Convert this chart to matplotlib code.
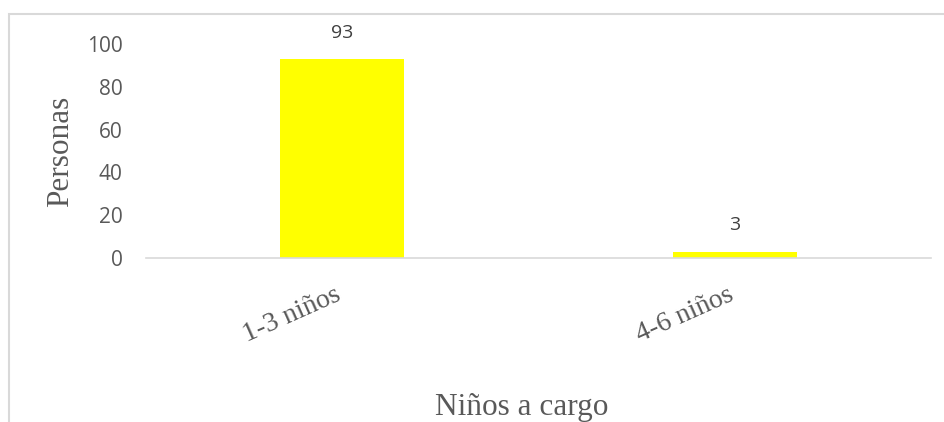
import matplotlib.pyplot as plt
from matplotlib.patches import Rectangle

# Datos
categorias = ['1-3 niños', '4-6 niños']
personas = [93, 3]
yticks = [0, 20, 40, 60, 80, 100]

fig = plt.figure(figsize=(9.45, 4.22), dpi=100)
ax = fig.add_axes([146 / 945, 1 - 258 / 422, 785 / 945, (258 - 44) / 422])

# borde del grafico (recortado como en la imagen)
fig.patches.append(Rectangle((9 / 945, -0.1), 1.1, 1 - 14 / 422 + 0.1,
                             transform=fig.transFigure, fill=False,
                             edgecolor='#d9d9d9', linewidth=1.5))

x = range(len(categorias))
bars = ax.bar(x, personas, width=0.315, color='#ffff00')
for b, v in zip(bars, personas):
    ax.annotate(str(v), (b.get_x() + b.get_width() / 2, v), xytext=(0, 19),
                textcoords='offset points', ha='center', va='center',
                fontsize=14, family='Open Sans', color='#404040')

ax.set_xlim(-0.5, 1.5)
ax.set_ylim(0, 100)
ax.set_yticks(yticks)
ax.set_yticklabels([str(t) for t in yticks], family='Open Sans',
                   fontsize=15, color='#595959')
ax.set_xticks(list(x))
ax.set_xticklabels(categorias, rotation=24, ha='right', va='baseline',
                   rotation_mode='anchor', family='Liberation Serif',
                   fontsize=20, color='#595959')
ax.tick_params(axis='y', length=0, pad=17)
ax.tick_params(axis='x', length=0, pad=30)

for s in ['top', 'right', 'left']:
    ax.spines[s].set_visible(False)
ax.spines['bottom'].set_color('#d9d9d9')
ax.spines['bottom'].set_linewidth(1.2)

fig.text(61 / 945, 1 - 151 / 422, 'Personas', rotation=90, ha='center',
         va='center', family='Liberation Serif', fontsize=22.5, color='#595959')
fig.text(522 / 945, 1 - 415 / 422, 'Niños a cargo', ha='center',
         va='baseline', family='Liberation Serif', fontsize=22.5, color='#595959')

plt.savefig('out.png', dpi=100)
